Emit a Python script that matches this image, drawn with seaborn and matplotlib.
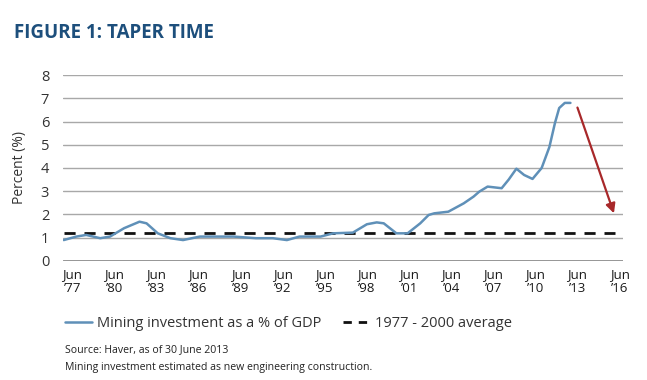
import pandas as pd
import matplotlib
matplotlib.use("Agg")
import matplotlib.pyplot as plt
import seaborn as sns
from matplotlib.lines import Line2D

# mining investment as % of GDP (year fraction)
years = [1976.9, 1977.8, 1978.5, 1979.5, 1980.2, 1981.2, 1982.3, 1982.8, 1983.6,
         1984.5, 1985.4, 1986.6, 1989.0, 1990.6, 1991.8, 1992.8, 1993.7, 1995.2,
         1996.1, 1997.5, 1998.5, 1999.2, 1999.7, 2000.6, 2001.4, 2002.3, 2002.9,
         2003.3, 2004.3, 2005.4, 2006.1, 2006.5, 2007.1, 2008.1, 2008.6, 2009.15,
         2009.7, 2010.3, 2010.95, 2011.5, 2011.9, 2012.2, 2012.6, 2013.0]
mining_pct = [0.90, 1.05, 1.12, 0.98, 1.05, 1.41, 1.69, 1.62, 1.19,
              0.98, 0.90, 1.05, 1.05, 0.98, 0.98, 0.90, 1.05, 1.05,
              1.19, 1.22, 1.58, 1.66, 1.62, 1.19, 1.19, 1.62, 1.98,
              2.05, 2.12, 2.48, 2.77, 2.98, 3.20, 3.13, 3.50, 3.97,
              3.70, 3.53, 4.00, 4.90, 5.94, 6.58, 6.80, 6.80]

avg_1977_2000 = 1.2
avg_span = [1976.9, 2016.2]

# taper arrow (start -> end)
arrow_start = (2013.5, 6.6)
arrow_end = (2016.1, 2.05)

tick_years = [1977.5 + 3 * i for i in range(14)]
tick_labels = ["Jun\n\u201977", "Jun\n\u201980", "Jun\n\u201983", "Jun\n\u201986",
               "Jun\n\u201989", "Jun\n\u201992", "Jun\n\u201995", "Jun\n\u201998",
               "Jun\n\u201901", "Jun\n\u201904", "Jun\n\u201907", "Jun\n\u201910",
               "Jun\n\u201913", "Jun\n\u201916"]

df = pd.DataFrame({"year": years, "pct": mining_pct})

sns.set_style("white")
plt.rcParams["font.family"] = ["Open Sans", "DejaVu Sans"]

line_col = "#5f90b8"
fig = plt.figure(figsize=(6.47, 3.8), dpi=100)
ax = fig.add_axes([0.0974, 0.3132, 0.8656, 0.4894])

for v in range(1, 9):
    ax.axhline(v, color="#a8a8a8", lw=1.0, zorder=1)
ax.axhline(0, color="#8c8c8c", lw=2.0, zorder=1)

ax.plot(avg_span, [avg_1977_2000, avg_1977_2000], color="#111111", lw=2.0,
        dashes=(4, 3.2), zorder=3)
sns.lineplot(data=df, x="year", y="pct", ax=ax, color=line_col, lw=1.8, zorder=4)

ax.annotate("", xy=arrow_end, xytext=arrow_start,
            arrowprops=dict(arrowstyle="-|>", color="#a8282a", lw=1.6,
                            mutation_scale=14, shrinkA=0, shrinkB=0))

ax.set_xlim(1976.85, 2016.75)
ax.set_ylim(0, 8)
ax.set_yticks(range(0, 9))
ax.set_xticks(tick_years)
ax.set_xticklabels(tick_labels, fontsize=9.5, color="#1a1a1a", linespacing=1.15)
ax.tick_params(axis="y", labelsize=10.5, colors="#333333", length=0, pad=10)
ax.tick_params(axis="x", length=0, pad=5)
ax.set_xlabel("")
ax.set_ylabel("Percent (%)", fontsize=10, color="#333333")
ax.yaxis.set_label_coords(-0.064, 0.5)
for s in ax.spines.values():
    s.set_visible(False)

fig.text(0.022, 0.9, "FIGURE 1: TAPER TIME", fontsize=13.5, fontweight="bold",
         color="#1d4f7c")

handles = [Line2D([], [], color=line_col, lw=1.8),
           Line2D([], [], color="#111111", lw=2.0, dashes=(3, 2.5))]
fig.legend(handles, ["Mining investment as a % of GDP", "1977 - 2000 average"],
           loc="center left", bbox_to_anchor=(0.1, 0.149), ncol=2, frameon=False,
           fontsize=10.5, handlelength=1.9, handletextpad=0.3, columnspacing=1.5,
           labelcolor="#333333", borderpad=0, borderaxespad=0)

small = dict(fontsize=7.6, color="#222222")
fig.text(0.1, 0.074, "Source: Haver, as of 30 June 2013", **small)
fig.text(0.1, 0.027, "Mining investment estimated as new engineering construction.",
         **small)

fig.savefig("out.png", dpi=100)
